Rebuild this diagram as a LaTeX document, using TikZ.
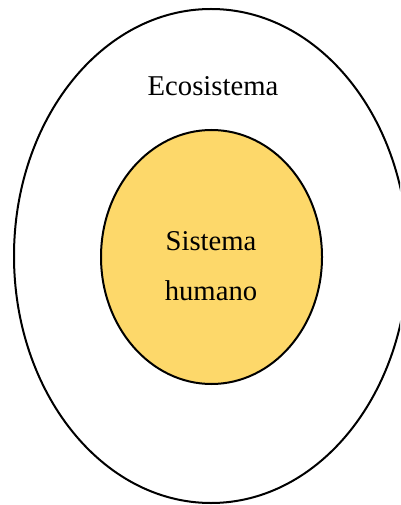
\documentclass[tikz,border=0pt]{standalone}
\usepackage{fontspec}
\setmainfont{Liberation Serif}
\definecolor{humanfill}{HTML}{FDD86A}
\begin{document}
\begin{tikzpicture}[x=0.75pt,y=-0.75pt,
  ring/.style={draw=black,line width=1.5pt},
  lbl/.style={font=\fontsize{21.5}{37.5}\selectfont,align=center,inner sep=0pt}]
\useasboundingbox (0,0) rectangle (400,505);
\clip (0,0) rectangle (400,505);
\draw[ring] (211,256) ellipse [x radius=197, y radius=247];
\draw[ring,fill=humanfill] (211.5,257) ellipse [x radius=110.5, y radius=127];
\node[lbl] (eco) at (213,86) {Ecosistema};
\node[lbl] (hum) at (211,266) {Sistema\\humano};
\end{tikzpicture}
\end{document}
